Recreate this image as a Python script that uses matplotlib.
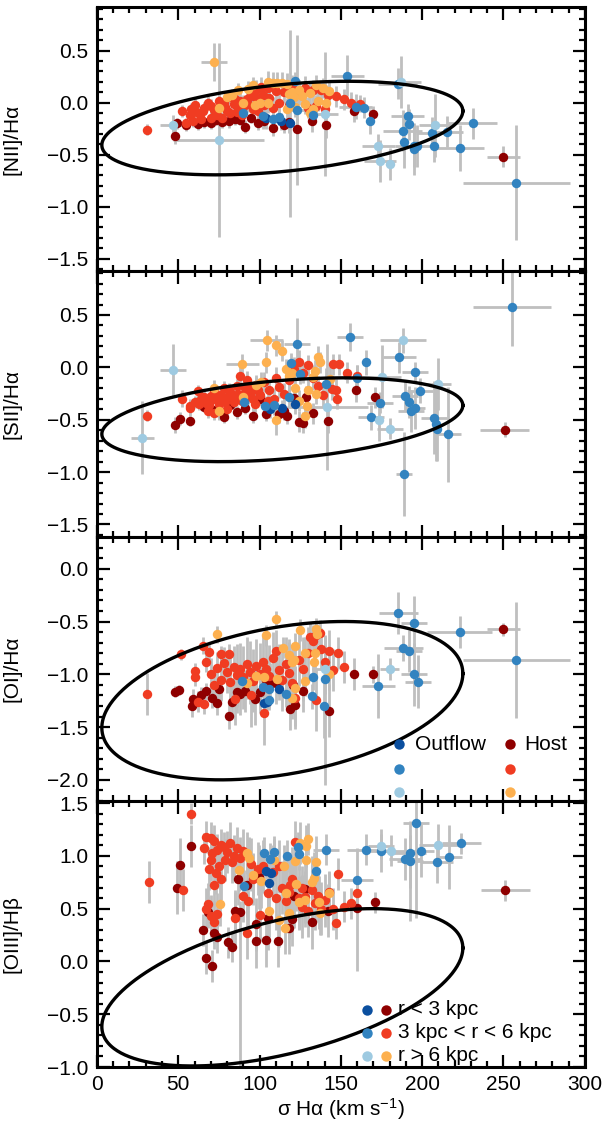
import numpy as np
import matplotlib.pyplot as plt
from matplotlib.ticker import MultipleLocator

plt.rcParams['font.family'] = ['Liberation Sans', 'DejaVu Sans']
plt.rcParams['mathtext.fontset'] = 'custom'
plt.rcParams['mathtext.rm'] = 'Liberation Sans'
plt.rcParams['mathtext.it'] = 'Liberation Sans:italic'

# colours: outflow (r<3, 3-6, >6 kpc) and host (same bins)
out_colors = ['#0b4f9f', '#3283c0', '#9ecae1']
host_colors = ['#8f0000', '#f03c22', '#fdb04f']
err_color = '#bfbfbf'

# rows: (sigma Halpha, ratio, sigma err, ratio err)  -- ratio err may be (low, high)
# ---------------- [NII]/Halpha ----------------
nii_out_in = [(113, -0.18, 0, 0.08), (104, -0.15, 0, 0.1), (119, -0.2, 0, 0.9)]
nii_out_mid = [(122, 0.21, 0, 0.08), (154, 0.26, 10, 0.2), (185, 0.18, 12, 0.15), (90, -0.10, 0, 0.1),
               (102, -0.13, 0, 0.12), (108, -0.16, 0, 0.1), (112, -0.14, 0, 0.08), (119, 0.0, 0, 0.1),
               (123, -0.07, 8, 0.72), (133, -0.12, 0, 0.1), (159, -0.04, 10, 0.12), (164, -0.05, 0, 0.1),
               (168, -0.18, 0, 0.12), (191, -0.13, 10, 0.12), (192, -0.21, 0, 0.15), (188, -0.27, 12, 0.2),
               (189, -0.38, 0, 0.25), (195, -0.42, 12, 0.2), (197, -0.42, 0, 0.2), (195, -0.45, 0, 0.25),
               (206, -0.29, 10, 0.15), (207, -0.42, 0, 0.15), (215, -0.28, 10, 0.15), (223, -0.44, 15, 0.22),
               (231, -0.20, 15, 0.15), (258, -0.77, 33, 0.55)]
nii_out_far = [(47, -0.22, 8, 0.1), (75, -0.36, 28, 0.93), (140, -0.11, 8, 0.6), (173, -0.42, 10, 0.12),
               (174, -0.56, 10, 0.2), (180, -0.59, 0, 0.15), (187, 0.20, 12, 0.25), (208, -0.22, 10, 0.3)]
nii_host_in = [(48, -0.32, 0, 0.08), (49, -0.2, 0, 0.05), (55, -0.22, 0, 0.05), (62, -0.21, 0, 0.05),
               (66, -0.19, 0, 0.05), (70, -0.2, 0, 0.05), (73, -0.17, 0, 0.05), (77, -0.19, 0, 0.05),
               (81, -0.18, 0, 0.06), (85, -0.16, 0, 0.06), (88, -0.17, 0, 0.05), (91, -0.23, 0, 0.06),
               (95, -0.15, 0, 0.05), (99, -0.2, 0, 0.06), (103, -0.18, 0, 0.06), (108, -0.24, 0, 0.08),
               (115, -0.22, 0, 0.07), (118, -0.19, 0, 0.1), (123, -0.25, 0, 0.1), (132, -0.18, 0, 0.1),
               (141, -0.22, 0, 0.12), (158, -0.085, 0, 0.1), (170, -0.11, 0, 0.08), (250, -0.52, 10, 0.1)]
nii_host_mid = [(31, -0.26, 0, 0.05), (52, -0.08, 0, 0.06), (57, -0.12, 0, 0.05), (62, -0.1, 0, 0.05),
                (68, 0.0, 0, 0.06), (72, -0.07, 0, 0.06), (75, 0.02, 0, 0.06), (79, -0.04, 0, 0.06),
                (81, 0.05, 0, 0.06), (84, -0.01, 0, 0.07), (86, -0.09, 0, 0.07), (88, 0.02, 0, 0.07),
                (90, -0.04, 0, 0.07), (92, 0.03, 0, 0.08), (95, 0.08, 0, 0.08), (98, 0.12, 0, 0.1),
                (101, 0.15, 0, 0.1), (105, 0.14, 0, 0.1), (110, 0.11, 0, 0.1), (115, 0.1, 0, 0.1),
                (120, 0.15, 0, 0.12), (124, 0.1, 0, 0.12), (128, 0.14, 0, 0.12), (133, 0.12, 0, 0.1),
                (138, 0.12, 0, 0.1), (142, 0.07, 0, 0.1), (147, 0.06, 0, 0.1), (152, 0.03, 0, 0.1),
                (156, 0.0, 0, 0.1), (162, -0.01, 0, 0.08), (140, -0.06, 0, 0.1), (135, -0.03, 0, 0.1),
                (130, -0.05, 0, 0.1), (118, -0.02, 0, 0.1), (112, 0.0, 0, 0.1), (108, -0.05, 0, 0.1),
                (103, -0.02, 0, 0.08), (96, -0.06, 0, 0.08), (74, -0.12, 0, 0.06), (70, -0.15, 0, 0.06),
                (66, -0.05, 0, 0.06), (64, -0.16, 0, 0.06), (77, -0.15, 0, 0.06), (82, -0.1, 0, 0.06),
                (89, -0.12, 0, 0.07), (99, -0.08, 0, 0.08), (59, -0.18, 0, 0.05), (55, -0.2, 0, 0.05),
                (60, -0.02, 0, 0.06), (65, -0.08, 0, 0.06), (70, -0.03, 0, 0.06), (78, 0.0, 0, 0.06),
                (85, 0.03, 0, 0.07), (87, -0.05, 0, 0.07), (93, -0.01, 0, 0.08), (97, 0.05, 0, 0.08),
                (102, 0.07, 0, 0.1), (106, 0.04, 0, 0.1), (58, -0.06, 0, 0.06), (80, -0.08, 0, 0.06)]
nii_host_far = [(72, 0.39, 8, 0.18), (75, -0.05, 0, 0.06), (80, 0.05, 0, 0.06), (83, 0.07, 0, 0.06),
                (87, 0.12, 0, 0.07), (90, 0.0, 0, 0.07), (93, 0.13, 0, 0.08), (96, 0.17, 0, 0.08),
                (100, 0.0, 0, 0.08), (105, 0.2, 0, 0.1), (108, 0.19, 0, 0.1), (111, 0.19, 0, 0.1),
                (114, 0.19, 0, 0.1), (117, 0.18, 0, 0.1), (118, 0.08, 0, 0.1), (120, 0.1, 0, 0.1),
                (121, 0.05, 0, 0.1), (122, -0.04, 0, 0.1), (124, 0.12, 0, 0.1), (126, 0.06, 0, 0.1),
                (128, -0.01, 0, 0.1), (131, 0.09, 0, 0.1), (131, -0.1, 0, 0.1), (133, -0.06, 0, 0.1),
                (135, 0.17, 0, 0.1), (136, 0.02, 0, 0.1), (139, 0.14, 0, 0.1), (141, 0.0, 0, 0.1),
                (143, 0.11, 0, 0.1), (117, -0.06, 0, 0.1), (105, 0.0, 0, 0.1), (97, -0.02, 0, 0.08)]

# ---------------- [SII]/Halpha ----------------
sii_out_in = [(106.6, -0.40, 0, 0.08), (113.7, -0.39, 0, 0.08), (121.9, -0.35, 0, 0.1)]
sii_out_mid = [(90.6, -0.335, 0, 0.08), (103.5, -0.37, 0, 0.1), (108.6, -0.355, 0, 0.1), (117.8, -0.28, 0, 0.1),
               (123, 0.22, 8, 0.25), (119.4, 0.04, 0, 0.1), (124.6, -0.06, 0, 0.1), (140.8, -0.16, 0, 0.15),
               (155.5, 0.29, 8, 0.13), (185.9, 0.095, 10, 0.15), (165.4, 0.047, 0, 0.12), (195.7, -0.045, 8, 0.1),
               (160, -0.10, 8, 0.12), (198.6, -0.225, 8, 0.12), (189.5, -0.27, 8, 0.15), (191.6, -0.33, 0, 0.15),
               (195.7, -0.39, 6, 0.2), (193.2, -0.42, 8, 0.2), (174, -0.34, 8, 0.1), (168.3, -0.475, 8, 0.12),
               (207.4, -0.48, 8, 0.35), (208.4, -0.54, 0, 0.35), (208.9, -0.59, 0, 0.3), (215.8, -0.64, 8, 0.45),
               (188.7, -1.02, 5, 0.4), (255, 0.58, 24, 0.38)]
sii_out_far = [(47, -0.025, 8, 0.25), (28, -0.67, 7, 0.35), (175, -0.09, 12, 0.3), (209.5, -0.16, 8, 0.25),
               (173.6, -0.50, 0, 0.2), (180.5, -0.585, 8, 0.1), (141.6, -0.38, 25, 0.6), (188.3, 0.26, 14, 0.12)]
sii_host_in = [(47.7, -0.55, 0, 0.08), (51, -0.49, 0, 0.06), (57, -0.51, 0, 0.05), (66, -0.38, 0, 0.05),
               (70, -0.4, 0, 0.05), (74, -0.41, 0, 0.06), (78, -0.47, 0, 0.06), (82, -0.36, 0, 0.06),
               (86, -0.43, 0, 0.06), (91, -0.39, 0, 0.06), (96, -0.46, 0, 0.07), (100, -0.3, 0, 0.06),
               (104, -0.45, 0, 0.06), (112, -0.45, 0, 0.08), (115, -0.42, 0, 0.08), (117, -0.46, 0, 0.08),
               (121, -0.29, 0, 0.08), (124, -0.52, 0, 0.1), (128.5, -0.28, 0, 0.1), (126.8, -0.53, 0, 0.1),
               (132.6, -0.44, 0, 0.1), (142.2, -0.51, 0, 0.12), (159.2, -0.215, 0, 0.12), (171, -0.285, 0, 0.1),
               (250.8, -0.595, 15, 0.07)]
sii_host_mid = [(31, -0.46, 0, 0.05), (52, -0.30, 0, 0.08), (57, -0.37, 0, 0.07), (57, -0.39, 0, 0.07),
                (62, -0.23, 0, 0.06), (64, -0.3, 0, 0.06), (67, -0.34, 0, 0.06), (70, -0.27, 0, 0.06),
                (72, -0.22, 0, 0.06), (74, -0.31, 0, 0.06), (76, -0.26, 0, 0.06), (78, -0.2, 0, 0.07),
                (80, -0.28, 0, 0.07), (82, -0.24, 0, 0.07), (84, -0.33, 0, 0.08), (86, -0.18, 0, 0.07),
                (88, -0.08, 0, 0.1), (90, -0.26, 0, 0.08), (92, -0.12, 0, 0.09), (94, -0.21, 0, 0.09),
                (96, -0.3, 0, 0.1), (98, -0.17, 0, 0.08), (100, -0.26, 0, 0.1), (103, -0.14, 0, 0.1),
                (106, -0.22, 0, 0.1), (109, -0.3, 0, 0.1), (112, -0.19, 0, 0.1), (115, -0.25, 0, 0.1),
                (118, -0.12, 0, 0.12), (121, -0.02, 0, 0.12), (124, 0.05, 0, 0.12), (127, -0.05, 0, 0.1),
                (130, 0.02, 0, 0.1), (133, -0.1, 0, 0.12), (136, -0.18, 0, 0.1), (139, -0.26, 0, 0.12),
                (145.3, 0.03, 0, 0.1), (149, 0.03, 0, 0.1), (153.5, -0.05, 0, 0.1), (147.7, -0.30, 0, 0.1),
                (146.9, -0.215, 0, 0.1), (144.3, -0.21, 0, 0.1), (159.7, -0.08, 0, 0.1),
                (63, -0.35, 0, 0.06), (66, -0.28, 0, 0.06), (69, -0.36, 0, 0.06), (71, -0.3, 0, 0.06),
                (73, -0.25, 0, 0.06), (75, -0.35, 0, 0.06), (77, -0.29, 0, 0.07), (79, -0.33, 0, 0.07),
                (81, -0.22, 0, 0.07), (83, -0.28, 0, 0.07), (85, -0.3, 0, 0.08), (87, -0.25, 0, 0.08),
                (89, -0.32, 0, 0.08), (91, -0.2, 0, 0.08), (93, -0.27, 0, 0.08), (95, -0.24, 0, 0.08),
                (97, -0.35, 0, 0.1), (99, -0.22, 0, 0.1), (60, -0.33, 0, 0.06), (68, -0.42, 0, 0.06),
                (72, -0.44, 0, 0.06), (80, -0.4, 0, 0.07), (105, -0.32, 0, 0.1), (110, -0.1, 0, 0.1)]
sii_host_far = [(104.3, 0.26, 10, 0.1), (110, 0.21, 0, 0.1), (114, 0.16, 0, 0.1), (89.5, 0.03, 10, 0.1),
                (104, 0.05, 0, 0.1), (136, 0.10, 0, 0.1), (137, 0.05, 0, 0.1), (134, -0.03, 0, 0.1),
                (133, -0.095, 0, 0.1), (143.2, -0.11, 0, 0.12), (129.9, -0.215, 0, 0.1), (128.9, -0.37, 0, 0.12),
                (127.9, -0.46, 0, 0.12), (135, -0.25, 0, 0.1), (72, -0.2, 0, 0.08), (75, -0.42, 0, 0.08),
                (90, -0.28, 0, 0.1), (98, -0.17, 0, 0.1), (101, -0.14, 0, 0.1), (110, -0.5, 0, 0.15),
                (118, -0.08, 0, 0.1), (120, -0.05, 0, 0.1), (122, -0.2, 0, 0.1), (124, -0.32, 0, 0.1),
                (116, -0.02, 0, 0.1)]

# ---------------- [OI]/Halpha ----------------
oi_out_in = [(103, -1.27, 0, 0.08), (104.5, -1.26, 0, 0.08), (112, -1.14, 0, 0.1)]
oi_out_mid = [(185.4, -0.42, 12, 0.2), (195, -0.51, 8, 0.25), (223, -0.60, 20, 0.15), (188.5, -0.75, 12, 0.12),
              (192, -0.78, 8, 0.2), (195, -1.0, 8, 0.3), (197.6, -1.07, 8, 0.25), (173, -1.11, 10, 0.3),
              (258, -0.865, 33, 0.55), (140, -1.04, 0, 0.15), (133, -1.03, 0, 0.12), (102, -1.12, 0, 0.1),
              (116, -1.19, 0, 0.12), (105.5, -1.24, 0, 0.1), (132, -1.21, 0, 0.12), (139.6, -1.3, 0, 0.3),
              (89, -1.06, 0, 0.08), (106, -1.14, 0, 0.1)]
oi_out_far = [(180, -0.95, 6, 0.1), (140, -0.95, 8, (1.1, 0.3))]
oi_host_in = [(250, -0.575, 10, 0.06), (169.5, -1.0, 0, 0.08), (158, -1.0, 0, 0.15), (48, -1.165, 0, 0.05),
              (50.5, -1.15, 0, 0.05), (58.8, -1.235, 0, 0.1), (58.6, -1.30, 0, 0.1), (64, -1.2, 0, 0.08),
              (67, -1.16, 0, 0.08), (71, -1.22, 0, 0.1), (73.8, -1.27, 0, 0.12), (75, -1.14, 0, 0.1),
              (81, -1.395, 0, 0.12), (83, -1.26, 0, 0.15), (86, -1.17, 0, 0.2), (88, -1.19, 0, 0.2),
              (91, -1.16, 0, 0.2), (97, -1.23, 0, 0.25), (100, -1.17, 0, 0.2), (104, -1.05, 0, 0.2),
              (106.6, -1.09, 0, 0.2), (110, -1.08, 0, 0.2), (118.8, -1.33, 0, 0.2), (122, -1.29, 0, 0.2),
              (120.5, -1.1, 0, 0.25), (127, -1.16, 0, 0.2), (142.4, -1.345, 0, 0.25)]
oi_host_mid = [(31, -1.19, 0, 0.2), (51.8, -0.81, 0, 0.05), (65.4, -0.73, 0, 0.08), (69, -0.79, 0, 0.08),
               (76, -0.81, 0, 0.08), (81, -0.81, 0, 0.1), (60, -0.97, 0, 0.08), (60, -1.03, 0, 0.08),
               (67, -0.88, 0, 0.1), (70, -1.0, 0, 0.15), (72, -1.1, 0, 0.15), (74, -0.94, 0, 0.15),
               (76, -1.05, 0, 0.2), (78, -0.89, 0, 0.15), (80, -0.98, 0, 0.2), (82, -1.07, 0, 0.25),
               (84, -0.93, 0, 0.2), (86, -1.01, 0, 0.3), (88, -0.95, 0, 0.25), (90, -1.03, 0, 0.3),
               (92, -0.9, 0, 0.25), (94, -0.98, 0, 0.3), (96, -1.06, 0, 0.3), (98, -0.92, 0, 0.25),
               (100, -1.0, 0, 0.3), (102, -0.88, 0, 0.25), (104, -0.95, 0, 0.3), (106, -1.02, 0, 0.3),
               (108, -0.85, 0, 0.25), (110, -0.78, 0, 0.2), (112, -0.96, 0, 0.25), (114, -1.05, 0, 0.3),
               (116, -0.9, 0, 0.25), (118, -0.99, 0, 0.3), (120, -1.08, 0, 0.3), (124, -0.86, 0, 0.25),
               (127, -0.95, 0, 0.3), (130, -0.8, 0, 0.25), (131, -0.65, 0, 0.15), (133, -0.68, 0, 0.15),
               (135, -0.63, 0, 0.12), (137, -0.61, 0, 0.12), (138, -0.76, 0, 0.2), (140, -0.88, 0, 0.25),
               (143, -0.78, 0, 0.2), (145, -0.96, 0, 0.2), (148, -0.8, 0, 0.15), (152, -0.93, 0, 0.15),
               (103, -1.37, 0, 0.3), (85, -1.23, 0, 0.25), (95, -1.2, 0, 0.3), (122, -1.22, 0, 0.3),
               (135, -1.24, 0, 0.3), (62, -1.26, 0, 0.1), (66, -1.28, 0, 0.1)]
oi_host_far = [(74, -0.62, 0, 0.08), (110, -0.48, 0, 0.08), (104, -0.63, 0, 0.1), (114.6, -0.75, 0, 0.1),
               (125, -0.58, 0, 0.1), (135, -0.57, 0, 0.1), (135.5, -0.62, 0, 0.1), (122, -0.73, 0, 0.12),
               (128, -0.8, 0, 0.15), (134, -0.8, 0, 0.15), (133.5, -0.88, 0, 0.15), (118, -0.82, 0, 0.15),
               (121, -0.86, 0, 0.15), (120, -0.88, 0, 0.15), (92, -1.08, 0, 0.15), (111, -1.04, 0, 0.15),
               (120, -1.22, 0, 0.2), (121.5, -1.13, 0, 0.2), (128, -1.06, 0, 0.15), (142.5, -1.0, 0, 0.15),
               (98, -1.02, 0, 0.15), (103, -1.03, 0, 0.15)]

# ---------------- [OIII]/Hbeta ----------------
oiii_out_in = [(105.5, 0.74, 0, 0.08), (103.8, 0.86, 0, 0.08), (107, 0.84, 0, 0.1)]
oiii_out_mid = [(196, 1.31, 8, (0.9, 0.2)), (165.6, 1.06, 12, 0.15), (174.7, 1.05, 8, 0.2), (192.6, 1.03, 10, (0.65, 0.3)),
                (199, 1.05, 8, 0.25), (189.5, 0.97, 10, 0.2), (192.6, 0.95, 8, 0.25), (209, 0.945, 10, 0.2),
                (216.5, 0.99, 8, 0.3), (224, 1.12, 12, 0.1), (141, 1.06, 8, 0.15), (160, 0.77, 10, 0.3),
                (103, 1.03, 0, 0.15), (109, 1.04, 0, 0.15), (117, 1.0, 0, 0.15), (123.4, 1.08, 0, 0.15),
                (124, 1.02, 0, 0.15), (134.6, 0.86, 0, 0.2), (90.7, 0.715, 0, 0.15), (106.7, 0.97, 0, 0.15)]
oiii_out_far = [(174.7, 1.09, 8, 0.12), (181, 1.05, 10, 0.15), (210, 1.1, 12, 0.2)]
oiii_host_in = [(251, 0.675, 15, 0.1), (171, 0.56, 0, 0.1), (159.7, 0.51, 0, (0.6, 0.27)), (51.3, 0.915, 0, 0.25),
                (49, 0.70, 0, 0.25), (58, 1.095, 0, 0.2), (65, 0.30, 0, 0.15), (67.3, 0.035, 0, 0.15),
                (71, -0.045, 0, 0.15), (72, 0.27, 0, 0.15), (73.7, 0.23, 0, 0.15), (80.4, 0.18, 0, 0.15),
                (82.8, 0.14, 0, 0.15), (68, 0.47, 0, 0.15), (85, 0.48, 0, 0.2), (98, 0.19, 0, 0.25),
                (104, 0.2, 0, 0.25), (98, 0.35, 0, 0.25), (105, 0.41, 0, 0.3), (92, 0.72, 0, 0.3),
                (99.5, 0.8, 0, 0.3), (121, 0.62, 0, 0.3), (120, 0.4, 0, 0.25), (118, 0.32, 0, 0.25),
                (132.5, 0.37, 0, 0.25), (128, 0.69, 0, 0.25), (142, 0.48, 0, 0.25), (111.5, 0.195, 0, 0.25),
                (87, 0.78, 0, 0.25), (88, 0.47, 0, (1.5, 0.1))]
oiii_host_mid = [(32, 0.755, 0, 0.2), (53, 0.68, 0, 0.2), (58, 1.40, 0, 0.1), (67, 1.18, 0, 0.15),
                 (70, 1.17, 0, 0.15), (72, 1.14, 0, 0.15), (76, 1.1, 0, 0.15), (66, 1.07, 0, 0.15),
                 (71, 1.03, 0, 0.15), (74, 1.06, 0, 0.15), (78, 1.08, 0, 0.15), (80, 1.04, 0, 0.2),
                 (82, 1.12, 0, 0.2), (84, 1.0, 0, 0.2), (86, 1.07, 0, 0.2), (88, 0.98, 0, 0.2),
                 (90, 1.05, 0, 0.2), (83, 0.94, 0, 0.2), (79, 0.96, 0, 0.2), (75, 0.9, 0, 0.2),
                 (70, 0.96, 0, 0.2), (73, 0.84, 0, 0.2), (76, 0.78, 0, 0.2), (72, 0.72, 0, 0.2),
                 (69, 0.88, 0, 0.2), (68, 0.54, 0, 0.2), (70, 0.43, 0, 0.2), (72, 0.37, 0, 0.2),
                 (74, 0.45, 0, 0.2), (67, 0.50, 0, 0.2), (85, 0.41, 0, 0.25), (92.4, 0.27, 0, 0.25),
                 (90, 0.62, 0, 0.25), (93, 0.57, 0, 0.25), (96, 0.78, 0, 0.25), (95, 0.92, 0, 0.25),
                 (99, 0.88, 0, 0.25), (102, 0.9, 0, 0.25), (105, 0.65, 0, 0.3), (108, 0.85, 0, 0.25),
                 (110, 0.6, 0, 0.3), (112, 0.9, 0, 0.25), (114, 0.7, 0, 0.25), (116, 0.57, 0, 0.3),
                 (118, 0.66, 0, 0.3), (120, 0.78, 0, 0.3), (122, 1.13, 0, 0.2), (124, 0.6, 0, 0.3),
                 (126, 0.52, 0, 0.3), (128, 0.61, 0, 0.25), (130, 0.48, 0, 0.25), (132, 0.68, 0, 0.25),
                 (134, 0.55, 0, 0.25), (136, 0.62, 0, 0.25), (138, 0.5, 0, 0.25), (140, 0.58, 0, 0.25),
                 (143, 0.66, 0, 0.2), (145, 0.5, 0, 0.2), (147, 0.36, 0, 0.15), (148, 0.83, 0, 0.15),
                 (152, 0.52, 0, 0.15), (156, 0.55, 0, 0.15), (160, 0.65, 0, 0.15), (100, 0.44, 0, 0.25),
                 (119, 0.72, 0, 0.25), (126, 0.7, 0, 0.2)]
oiii_host_far = [(92.4, 1.03, 0, 0.2), (93.5, 0.98, 0, 0.2), (87.6, 0.87, 0, 0.2), (96, 0.82, 0, 0.2),
                 (100.7, 0.76, 0, 0.25), (130, 1.16, 0, 0.15), (124.6, 1.12, 0, 0.2), (128.8, 1.09, 0, 0.2),
                 (121.5, 0.95, 0, 0.25), (128.8, 0.96, 0, 0.25), (135, 0.94, 0, 0.25), (133.6, 0.79, 0, 0.25),
                 (122.5, 0.73, 0, 0.25), (132, 0.75, 0, 0.25), (116, 0.65, 0, 0.25), (124, 0.56, 0, 0.25),
                 (128, 0.58, 0, 0.25), (136.5, 0.56, 0, 0.25), (143, 0.645, 0, 0.2), (105.5, 0.48, 0, 0.25),
                 (112, 0.39, 0, 0.25), (118, 0.46, 0, 0.25), (115.5, 0.32, 0, 0.25), (75.7, 0.54, 0, 0.2),
                 (137, 0.455, 0, 0.2), (109, 0.96, 0, 0.2), (115, 0.905, 0, 0.2)]

# demarcation ellipses: x = cx + a cos t, y = cy + b cos(t - phase)
ell_cx = [114, 114, 114, 114]
ell_cy = [-0.245, -0.50, -1.25, -0.245]
ell_a = [111, 111, 111, 111]
ell_b = [0.45, 0.40, 0.75, 0.745]
ell_phase = [68.6, 70.0, 70.0, 60.0]

ylabels = ['[NII]/Hα', '[SII]/Hα', '[OI]/Hα', '[OIII]/Hβ']
ylims = [(-1.62, 0.92), (-1.62, 0.92), (-2.2, 0.3), (-1.0, 1.52)]
panels = [
    (nii_out_in, nii_out_mid, nii_out_far, nii_host_in, nii_host_mid, nii_host_far),
    (sii_out_in, sii_out_mid, sii_out_far, sii_host_in, sii_host_mid, sii_host_far),
    (oi_out_in, oi_out_mid, oi_out_far, oi_host_in, oi_host_mid, oi_host_far),
    (oiii_out_in, oiii_out_mid, oiii_out_far, oiii_host_in, oiii_host_mid, oiii_host_far),
]
radius_labels = ['r < 3 kpc', '3 kpc < r < 6 kpc', 'r > 6 kpc']

fig = plt.figure(figsize=(6.06, 11.24), dpi=100)
left, width = 0.160, 0.805
tops = [0.9938, 0.7589, 0.5222, 0.2874, 0.0507]
axes = []
for i in range(4):
    ax = fig.add_axes([left, tops[i + 1], width, tops[i] - tops[i + 1]])
    axes.append(ax)


def draw_errors(ax, rows):
    # grey error bars, returns the point positions
    xs = np.array([r[0] for r in rows], float)
    ys = np.array([r[1] for r in rows], float)
    xe = np.array([r[2] for r in rows], float)
    lo, hi = [], []
    for r in rows:
        if isinstance(r[3], tuple):
            lo.append(r[3][0]); hi.append(r[3][1])
        else:
            lo.append(r[3]); hi.append(r[3])
    ax.errorbar(xs, ys, xerr=xe, yerr=[lo, hi], fmt='none', ecolor=err_color,
                elinewidth=2.0, capsize=0, zorder=1)
    return xs, ys


cols = out_colors + host_colors
for i, ax in enumerate(axes):
    pts = [draw_errors(ax, g) for g in panels[i]]
    # host first, outflow on top
    for k in [3, 4, 5, 0, 1, 2]:
        xs, ys = pts[k]
        ax.plot(xs, ys, 'o', color=cols[k], ms=6.8, mec='none', zorder=3)

    t = np.linspace(0, 2 * np.pi, 400)
    ph = np.deg2rad(ell_phase[i])
    ax.plot(ell_cx[i] + ell_a[i] * np.cos(t), ell_cy[i] + ell_b[i] * np.cos(t - ph),
            color='black', lw=2.4, zorder=4)

    ax.set_xlim(0, 300)
    ax.set_ylim(*ylims[i])
    ax.xaxis.set_major_locator(MultipleLocator(50))
    ax.xaxis.set_minor_locator(MultipleLocator(10))
    ax.yaxis.set_major_locator(MultipleLocator(0.5))
    ax.yaxis.set_minor_locator(MultipleLocator(0.1))
    ax.tick_params(which='both', direction='in', top=True, right=True, width=1.6,
                   labelsize=15, pad=6)
    ax.tick_params(which='major', length=9)
    ax.tick_params(which='minor', length=4.5)
    for s in ax.spines.values():
        s.set_linewidth(2.2)
    ax.yaxis.set_major_formatter(plt.FuncFormatter(lambda v, p: f'{v:.1f}'.replace('-', '\u2212')))
    ax.set_ylabel(ylabels[i], fontsize=15)
    ax.yaxis.set_label_coords(-0.155, 0.5)
    if i < 3:
        ax.tick_params(labelbottom=False)

axes[3].set_xlabel(r'σ Hα (km s$^{-1}$)', fontsize=15, labelpad=1)

# legend in the [OI] panel: outflow / host colour columns
ax = axes[2]
rows_y = [0.214, 0.123, 0.035]
for j in range(3):
    ax.plot(0.619, rows_y[j], 'o', color=out_colors[j], ms=7.5, mec='none', transform=ax.transAxes, zorder=5)
    ax.plot(0.847, rows_y[j], 'o', color=host_colors[j], ms=7.5, mec='none', transform=ax.transAxes, zorder=5)
ax.text(0.652, rows_y[0], 'Outflow', transform=ax.transAxes, fontsize=15, va='center', ha='left', zorder=5)
ax.text(0.876, rows_y[0], 'Host', transform=ax.transAxes, fontsize=15, va='center', ha='left', zorder=5)

# legend in the [OIII] panel: radius bins
ax = axes[3]
rows_y = [0.216, 0.128, 0.043]
for j in range(3):
    ax.plot(0.553, rows_y[j], 'o', color=out_colors[j], ms=7.5, mec='none', transform=ax.transAxes, zorder=5)
    ax.plot(0.593, rows_y[j], 'o', color=host_colors[j], ms=7.5, mec='none', transform=ax.transAxes, zorder=5)
    ax.text(0.618, rows_y[j], radius_labels[j], transform=ax.transAxes, fontsize=15,
            va='center', ha='left', zorder=5)

fig.savefig('out.png', dpi=100)
